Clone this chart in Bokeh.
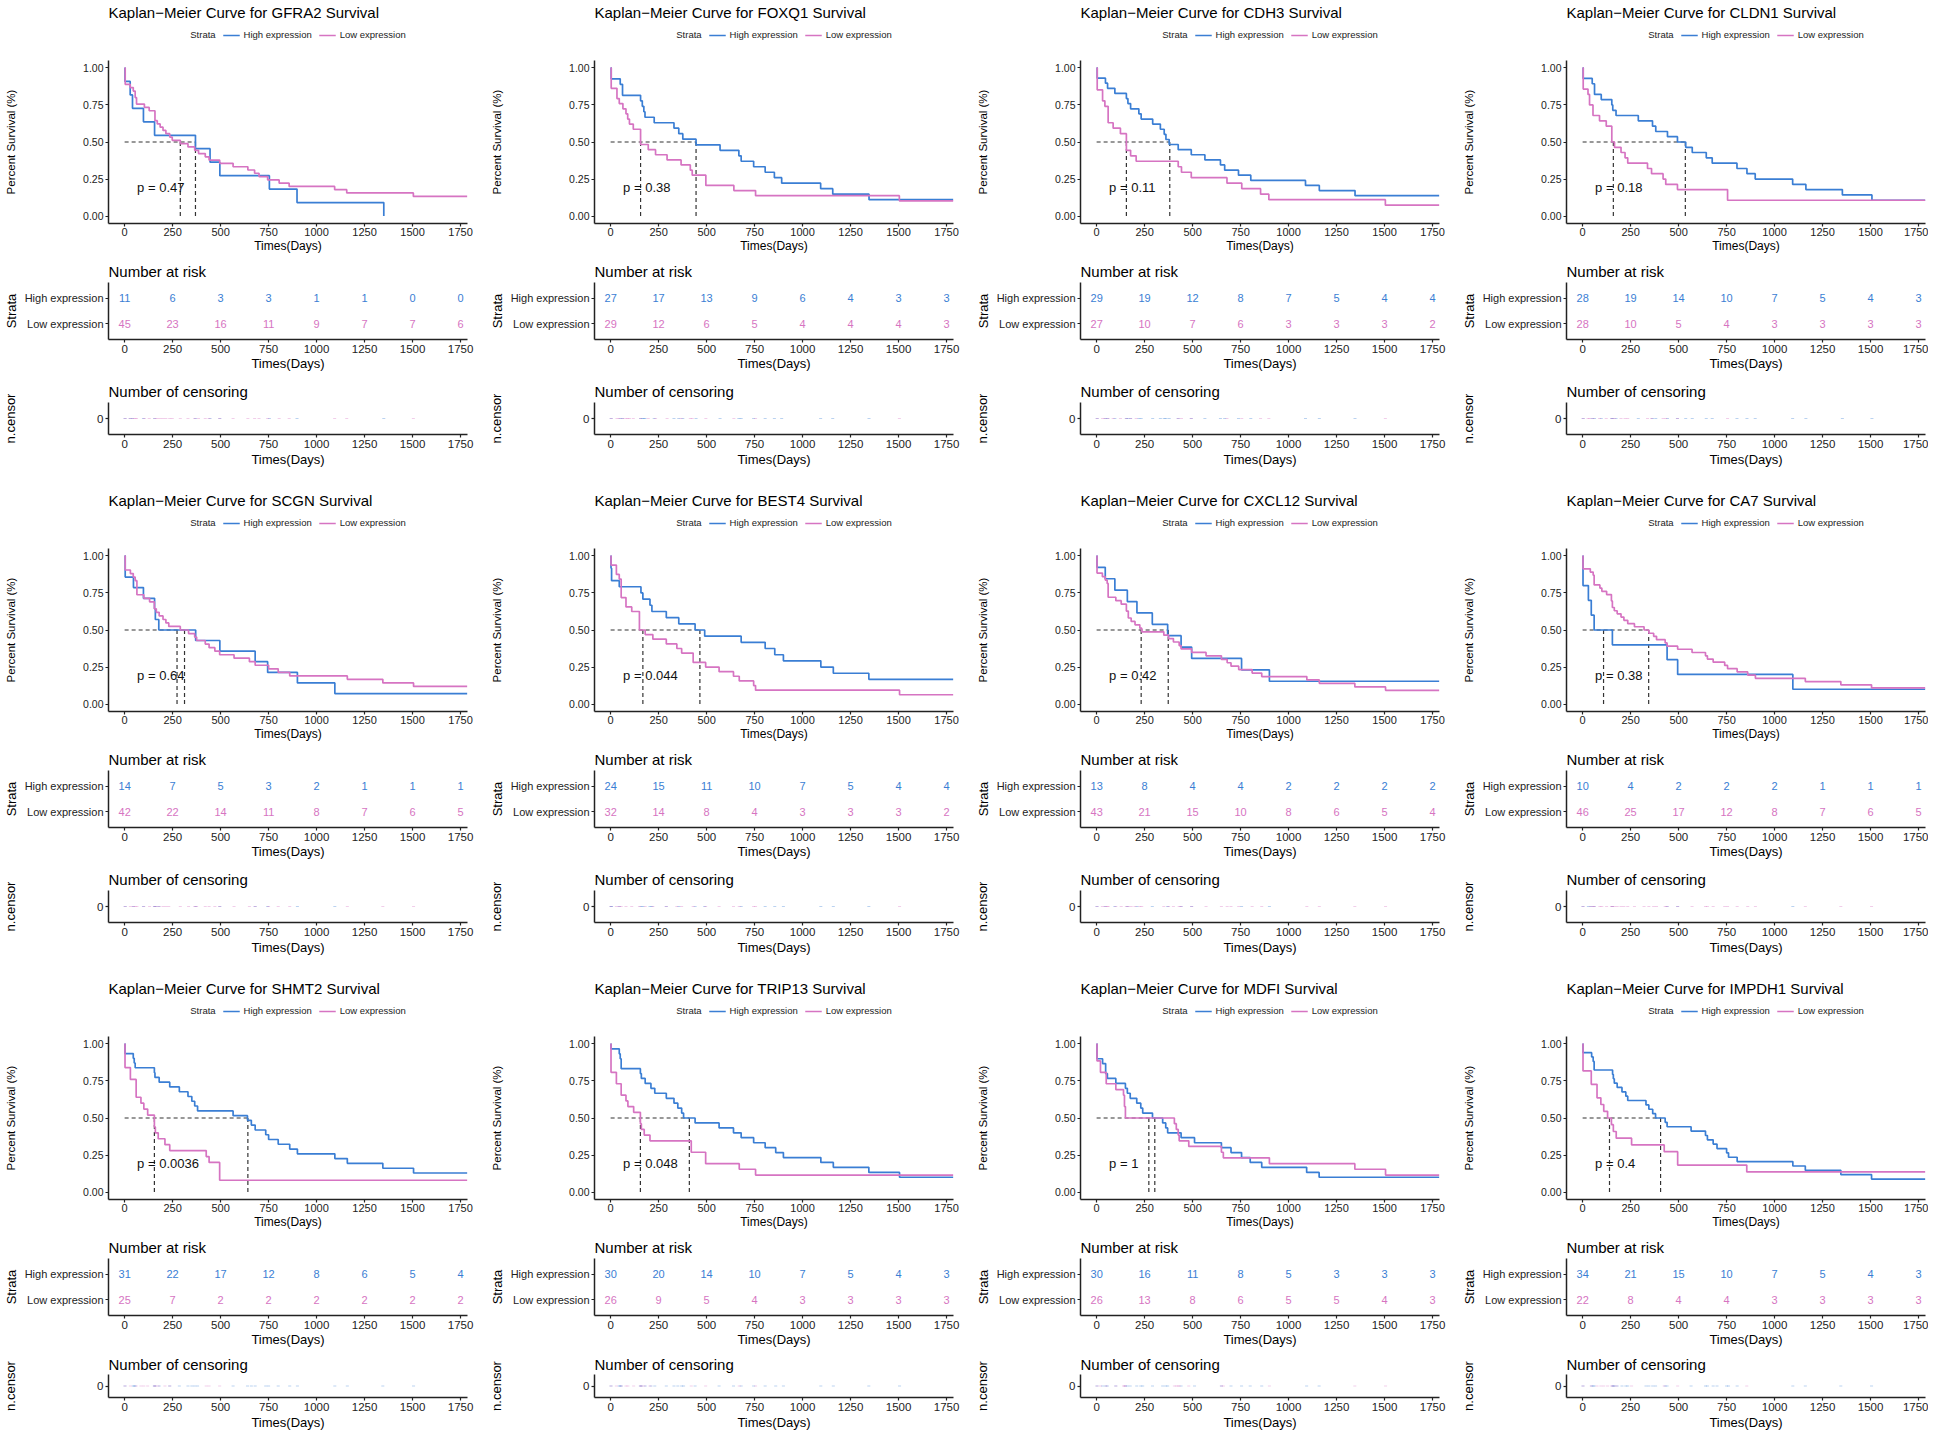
from bokeh.plotting import figure
from bokeh.layouts import column, row
from bokeh.models import Range1d, FactorRange, FixedTicker, Legend, LegendItem, NumeralTickFormatter
from bokeh.core.properties import value
from bokeh.embed import file_html
from bokeh.resources import INLINE

# ---------------- data ----------------
genes = ["GFRA2", "FOXQ1", "CDH3", "CLDN1", "SCGN", "BEST4", "CXCL12", "CA7",
         "SHMT2", "TRIP13", "MDFI", "IMPDH1"]
pvals = ["0.47", "0.38", "0.11", "0.18", "0.64", "0.044", "0.42", "0.38",
         "0.0036", "0.048", "1", "0.4"]
median_high = [369, 445, 381, 535, 273, 465, 373, 109, 642, 410, 303, 406]
median_low = [290, 156, 155, 160, 312, 168, 232, 344, 155, 155, 272, 140]

risk_times = [0, 250, 500, 750, 1000, 1250, 1500, 1750]
x_ticks = [0, 250, 500, 750, 1000, 1250, 1500, 1750]
y_ticks = [0.0, 0.25, 0.5, 0.75, 1.0]
strata = ["High expression", "Low expression"]

risk_high = [
    [11, 6, 3, 3, 1, 1, 0, 0], [27, 17, 13, 9, 6, 4, 3, 3], [29, 19, 12, 8, 7, 5, 4, 4],
    [28, 19, 14, 10, 7, 5, 4, 3], [14, 7, 5, 3, 2, 1, 1, 1], [24, 15, 11, 10, 7, 5, 4, 4],
    [13, 8, 4, 4, 2, 2, 2, 2], [10, 4, 2, 2, 2, 1, 1, 1], [31, 22, 17, 12, 8, 6, 5, 4],
    [30, 20, 14, 10, 7, 5, 4, 3], [30, 16, 11, 8, 5, 3, 3, 3], [34, 21, 15, 10, 7, 5, 4, 3]]
risk_low = [
    [45, 23, 16, 11, 9, 7, 7, 6], [29, 12, 6, 5, 4, 4, 4, 3], [27, 10, 7, 6, 3, 3, 3, 2],
    [28, 10, 5, 4, 3, 3, 3, 3], [42, 22, 14, 11, 8, 7, 6, 5], [32, 14, 8, 4, 3, 3, 3, 2],
    [43, 21, 15, 10, 8, 6, 5, 4], [46, 25, 17, 12, 8, 7, 6, 5], [25, 7, 2, 2, 2, 2, 2, 2],
    [26, 9, 5, 4, 3, 3, 3, 3], [26, 13, 8, 6, 5, 5, 4, 3], [22, 8, 4, 4, 3, 3, 3, 3]]

END_T = 1785

gfra2_high_t = [0, 2, 29, 41, 98, 156, 369, 445, 496, 754, 898, 1350]
gfra2_high_s = [1.0, 0.909, 0.818, 0.727, 0.636, 0.545, 0.455, 0.364, 0.273, 0.182, 0.091, 0.0]
gfra2_low_t = [0, 3, 29, 45, 55, 62, 103, 128, 158, 170, 185, 200, 215, 235, 248, 290, 330, 365, 385,
               420, 440, 495, 565, 642, 677, 700, 745, 805, 857, 1094, 1157, 1504, 1785]
gfra2_low_s = [1.0, 0.889, 0.867, 0.844, 0.8, 0.756, 0.733, 0.711, 0.644, 0.622, 0.6, 0.578, 0.556,
               0.533, 0.511, 0.489, 0.467, 0.444, 0.422, 0.4, 0.378, 0.356, 0.333, 0.311, 0.289,
               0.267, 0.244, 0.222, 0.2, 0.178, 0.156, 0.133, 0.133]

foxq1_high_t = [0, 3, 50, 62, 156, 165, 173, 179, 227, 330, 355, 376, 445, 570, 668, 680, 745, 805,
                853, 891, 1094, 1157, 1346, 1785]
foxq1_high_s = [1.0, 0.926, 0.889, 0.815, 0.778, 0.741, 0.704, 0.667, 0.63, 0.593, 0.556, 0.519,
                0.481, 0.444, 0.407, 0.37, 0.333, 0.296, 0.259, 0.222, 0.185, 0.148, 0.111, 0.111]
foxq1_low_t = [0, 3, 33, 45, 64, 80, 89, 98, 118, 156, 196, 234, 294, 367, 415, 425, 496, 642, 755,
               1504, 1785]
foxq1_low_s = [1.0, 0.862, 0.793, 0.759, 0.724, 0.69, 0.655, 0.621, 0.586, 0.483, 0.448, 0.414,
               0.379, 0.345, 0.31, 0.276, 0.207, 0.172, 0.138, 0.103, 0.103]

cdh3_high_t = [0, 3, 46, 57, 95, 155, 163, 177, 220, 232, 292, 332, 352, 361, 378, 425, 493, 564,
               645, 667, 739, 803, 1088, 1160, 1346, 1785]
cdh3_high_s = [1.0, 0.931, 0.897, 0.862, 0.828, 0.793, 0.759, 0.724, 0.69, 0.655, 0.621, 0.586,
               0.552, 0.517, 0.483, 0.448, 0.414, 0.379, 0.345, 0.31, 0.276, 0.241, 0.207, 0.172,
               0.138, 0.138]
cdh3_low_t = [0, 3, 31, 43, 60, 86, 124, 155, 177, 206, 425, 442, 493, 679, 756, 854, 897, 1504, 1785]
cdh3_low_s = [1.0, 0.852, 0.778, 0.741, 0.63, 0.593, 0.556, 0.444, 0.407, 0.37, 0.333, 0.296,
              0.259, 0.222, 0.185, 0.148, 0.111, 0.074, 0.074]

cldn1_high_t = [0, 3, 50, 62, 97, 152, 157, 174, 290, 364, 381, 442, 494, 537, 571, 644, 675, 804,
                856, 899, 1094, 1163, 1353, 1507, 1785]
cldn1_high_s = [1.0, 0.929, 0.893, 0.821, 0.786, 0.75, 0.714, 0.679, 0.643, 0.607, 0.571, 0.536,
                0.5, 0.464, 0.429, 0.393, 0.357, 0.321, 0.286, 0.25, 0.214, 0.179, 0.143, 0.107, 0.107]
cldn1_low_t = [0, 3, 28, 36, 54, 88, 123, 152, 166, 200, 221, 235, 338, 359, 419, 433, 494, 755, 1785]
cldn1_low_s = [1.0, 0.857, 0.821, 0.75, 0.679, 0.643, 0.607, 0.5, 0.464, 0.429, 0.393, 0.357,
               0.321, 0.286, 0.25, 0.214, 0.179, 0.107, 0.107]

scgn_high_t = [0, 3, 46, 98, 156, 160, 178, 370, 496, 680, 745, 900, 1095, 1785]
scgn_high_s = [1.0, 0.857, 0.786, 0.714, 0.643, 0.571, 0.5, 0.429, 0.357, 0.286, 0.214, 0.143,
               0.071, 0.071]
scgn_low_t = [0, 3, 30, 45, 55, 64, 100, 130, 155, 165, 180, 200, 215, 230, 290, 333, 365, 375,
              420, 440, 470, 495, 570, 650, 680, 750, 800, 860, 1160, 1345, 1505, 1785]
scgn_low_s = [1.0, 0.905, 0.881, 0.857, 0.833, 0.738, 0.714, 0.69, 0.643, 0.619, 0.595, 0.571,
              0.548, 0.524, 0.5, 0.476, 0.452, 0.429, 0.405, 0.381, 0.357, 0.333, 0.31, 0.286,
              0.262, 0.238, 0.214, 0.19, 0.167, 0.143, 0.119, 0.119]

best4_high_t = [0, 2, 5, 45, 158, 168, 205, 215, 290, 355, 440, 490, 680, 805, 855, 900, 1095,
                1160, 1345, 1785]
best4_high_s = [1.0, 0.917, 0.833, 0.792, 0.75, 0.708, 0.667, 0.625, 0.583, 0.542, 0.5, 0.458,
                0.417, 0.375, 0.333, 0.292, 0.25, 0.208, 0.167, 0.167]
best4_low_t = [0, 2, 30, 45, 55, 80, 110, 150, 180, 220, 290, 345, 370, 430, 495, 565, 640, 670,
               745, 755, 1505, 1785]
best4_low_s = [1.0, 0.938, 0.875, 0.844, 0.719, 0.656, 0.625, 0.5, 0.469, 0.438, 0.406, 0.375,
               0.344, 0.281, 0.25, 0.219, 0.188, 0.156, 0.125, 0.094, 0.063, 0.063]

cxcl12_high_t = [0, 2, 45, 95, 160, 210, 290, 370, 440, 495, 755, 900, 1785]
cxcl12_high_s = [1.0, 0.923, 0.846, 0.769, 0.692, 0.615, 0.538, 0.462, 0.385, 0.308, 0.231,
                 0.154, 0.154]
cxcl12_low_t = [0, 2, 30, 45, 55, 60, 100, 128, 155, 165, 180, 200, 225, 235, 350, 375, 400, 430,
                440, 495, 570, 650, 680, 700, 740, 810, 860, 1095, 1160, 1345, 1505, 1785]
cxcl12_low_s = [1.0, 0.884, 0.86, 0.837, 0.814, 0.721, 0.698, 0.674, 0.628, 0.581, 0.558, 0.535,
                0.512, 0.488, 0.465, 0.442, 0.419, 0.395, 0.372, 0.349, 0.326, 0.302, 0.279,
                0.256, 0.233, 0.209, 0.186, 0.163, 0.14, 0.116, 0.093, 0.093]

ca7_high_t = [0, 2, 30, 45, 60, 155, 440, 495, 1095, 1785]
ca7_high_s = [1.0, 0.8, 0.7, 0.6, 0.5, 0.4, 0.3, 0.2, 0.1, 0.1]
ca7_low_t = [0, 2, 40, 55, 60, 90, 100, 125, 150, 155, 165, 180, 200, 215, 235, 270, 320, 345,
             370, 385, 430, 440, 495, 570, 640, 650, 680, 740, 755, 805, 860, 900, 1160, 1345,
             1505, 1785]
ca7_low_s = [1.0, 0.913, 0.891, 0.87, 0.804, 0.783, 0.761, 0.739, 0.696, 0.652, 0.63, 0.609,
             0.587, 0.565, 0.543, 0.522, 0.5, 0.478, 0.457, 0.435, 0.413, 0.391, 0.37, 0.348,
             0.326, 0.304, 0.283, 0.261, 0.239, 0.217, 0.196, 0.174, 0.152, 0.13, 0.109, 0.109]

shmt2_high_t = [0, 2, 45, 50, 55, 155, 158, 180, 235, 285, 330, 350, 365, 380, 565, 640, 660,
                680, 735, 750, 800, 860, 900, 1095, 1160, 1345, 1505, 1785]
shmt2_high_s = [1.0, 0.935, 0.903, 0.871, 0.839, 0.806, 0.774, 0.742, 0.71, 0.677, 0.645, 0.613,
                0.581, 0.548, 0.516, 0.484, 0.452, 0.419, 0.387, 0.355, 0.323, 0.29, 0.258,
                0.226, 0.194, 0.161, 0.129, 0.129]
shmt2_low_t = [0, 2, 30, 60, 85, 100, 120, 155, 160, 175, 210, 235, 425, 440, 495, 1785]
shmt2_low_s = [1.0, 0.84, 0.76, 0.64, 0.6, 0.56, 0.52, 0.44, 0.4, 0.36, 0.32, 0.28, 0.24, 0.2,
               0.08, 0.08]

trip13_high_t = [0, 2, 45, 50, 55, 155, 160, 180, 210, 230, 290, 330, 350, 370, 380, 440, 565,
                 640, 680, 745, 805, 860, 900, 1095, 1160, 1345, 1505, 1785]
trip13_high_s = [1.0, 0.967, 0.933, 0.9, 0.833, 0.8, 0.767, 0.733, 0.7, 0.667, 0.633, 0.6, 0.567,
                 0.533, 0.5, 0.467, 0.433, 0.4, 0.367, 0.333, 0.3, 0.267, 0.233, 0.2, 0.167,
                 0.133, 0.1, 0.1]
trip13_low_t = [0, 2, 30, 55, 80, 90, 120, 155, 160, 175, 205, 420, 495, 670, 755, 1785]
trip13_low_s = [1.0, 0.808, 0.731, 0.654, 0.615, 0.577, 0.538, 0.462, 0.423, 0.385, 0.346, 0.269,
                0.192, 0.154, 0.115, 0.115]

mdfi_high_t = [0, 2, 31, 47, 56, 100, 150, 160, 175, 209, 230, 240, 291, 344, 360, 370, 440, 510,
               650, 700, 755, 800, 860, 1094, 1159, 1785]
mdfi_high_s = [1.0, 0.9, 0.867, 0.8, 0.767, 0.733, 0.7, 0.667, 0.633, 0.6, 0.567, 0.533, 0.5,
               0.467, 0.433, 0.4, 0.367, 0.333, 0.3, 0.267, 0.233, 0.2, 0.167, 0.133, 0.1, 0.1]
mdfi_low_t = [0, 2, 20, 50, 100, 140, 145, 150, 405, 415, 425, 430, 480, 650, 660, 900, 1345,
              1505, 1785]
mdfi_low_s = [1.0, 0.885, 0.808, 0.731, 0.692, 0.654, 0.577, 0.5, 0.462, 0.423, 0.385, 0.346,
              0.308, 0.269, 0.231, 0.192, 0.154, 0.115, 0.115]

impdh1_high_t = [0, 2, 47, 55, 60, 156, 160, 165, 180, 205, 225, 235, 330, 345, 365, 380, 430,
                 440, 565, 640, 650, 680, 700, 750, 760, 805, 1095, 1160, 1345, 1505, 1785]
impdh1_high_s = [1.0, 0.941, 0.912, 0.882, 0.824, 0.794, 0.765, 0.735, 0.706, 0.676, 0.647,
                 0.618, 0.588, 0.559, 0.529, 0.5, 0.471, 0.441, 0.412, 0.382, 0.353, 0.324,
                 0.294, 0.265, 0.235, 0.206, 0.176, 0.147, 0.118, 0.088, 0.088]
impdh1_low_t = [0, 2, 45, 75, 95, 110, 130, 150, 160, 175, 255, 425, 495, 855, 1785]
impdh1_low_s = [1.0, 0.818, 0.727, 0.636, 0.591, 0.545, 0.5, 0.455, 0.409, 0.364, 0.318, 0.273,
                0.182, 0.136, 0.136]

curves = [
    (gfra2_high_t, gfra2_high_s, gfra2_low_t, gfra2_low_s),
    (foxq1_high_t, foxq1_high_s, foxq1_low_t, foxq1_low_s),
    (cdh3_high_t, cdh3_high_s, cdh3_low_t, cdh3_low_s),
    (cldn1_high_t, cldn1_high_s, cldn1_low_t, cldn1_low_s),
    (scgn_high_t, scgn_high_s, scgn_low_t, scgn_low_s),
    (best4_high_t, best4_high_s, best4_low_t, best4_low_s),
    (cxcl12_high_t, cxcl12_high_s, cxcl12_low_t, cxcl12_low_s),
    (ca7_high_t, ca7_high_s, ca7_low_t, ca7_low_s),
    (shmt2_high_t, shmt2_high_s, shmt2_low_t, shmt2_low_s),
    (trip13_high_t, trip13_high_s, trip13_low_t, trip13_low_s),
    (mdfi_high_t, mdfi_high_s, mdfi_low_t, mdfi_low_s),
    (impdh1_high_t, impdh1_high_s, impdh1_low_t, impdh1_low_s),
]

# ---------------- styling ----------------
FONT = "Liberation Sans"
BLUE = "#3A7ED4"
PINK = "#D674C2"
INK = "#222222"
COL_W = [486, 486, 486, 470]
ROW_H = [488, 488, 456]
HEAD_H = 58
KM_H = 200
RISK_H = 118
FRAME_L = 104
FRAME_R = 467
X_LO, X_HI = -84, 1786


def style_title(p):
    p.title.text_font = FONT
    p.title.text_font_size = "15px"
    p.title.text_font_style = "normal"
    p.title.text_color = "#000000"
    p.title.align = "left"


def base_fig(w, h, top, bottom, y_range):
    p = figure(width=w, height=h, x_range=Range1d(X_LO, X_HI), y_range=y_range,
               output_backend="svg", toolbar_location=None,
               min_border_left=FRAME_L, min_border_right=max(w - FRAME_R, 0),
               min_border_top=top, min_border_bottom=bottom)
    p.outline_line_color = None
    p.xgrid.grid_line_color = None
    p.ygrid.grid_line_color = None
    p.background_fill_color = "white"
    p.border_fill_color = "white"
    style_title(p)
    for ax in (p.xaxis[0], p.yaxis[0]):
        ax.axis_line_color = INK
        ax.axis_line_width = 1.5
        ax.major_tick_line_color = INK
        ax.major_tick_line_width = 1.2
        ax.major_tick_out = 3
        ax.major_tick_in = 0
        ax.minor_tick_line_color = None
        ax.major_label_text_font = FONT
        ax.major_label_text_color = INK
        ax.axis_label_text_font = FONT
        ax.axis_label_text_font_style = "normal"
        ax.axis_label_text_color = "#000000"
    p.xaxis[0].ticker = FixedTicker(ticks=x_ticks)
    p.xaxis[0].axis_label = "Times(Days)"
    return p


def head_fig(i, w):
    # title + legend strip above the survival curves
    p = figure(width=w, height=HEAD_H, x_range=Range1d(0, 1), y_range=Range1d(0, 1),
               x_axis_type=None, y_axis_type=None, output_backend="svg",
               toolbar_location=None, min_border_left=FRAME_L,
               min_border_right=max(w - FRAME_R, 0),
               min_border_top=20, min_border_bottom=10)
    p.outline_line_color = None
    p.grid.grid_line_color = None
    p.background_fill_color = "white"
    p.border_fill_color = "white"
    p.title.text = "Kaplan\u2212Meier Curve for " + genes[i] + " Survival"
    style_title(p)
    p.title.standoff = 2
    dummy = p.line(x=[0], y=[0], line_alpha=0)
    rh = p.line(x=[0], y=[0], line_color=BLUE, line_width=1.6)
    rl = p.line(x=[0], y=[0], line_color=PINK, line_width=1.6)
    leg = Legend(items=[LegendItem(label="Strata", renderers=[dummy]),
                        LegendItem(label=strata[0], renderers=[rh]),
                        LegendItem(label=strata[1], renderers=[rl])],
                 orientation="horizontal", location="center")
    leg.label_text_font = FONT
    leg.label_text_font_size = "9.5px"
    leg.label_text_color = INK
    leg.label_height = 12
    leg.glyph_height = 12
    leg.glyph_width = 17
    leg.label_standoff = 4
    leg.spacing = 7
    leg.padding = 0
    leg.margin = 0
    leg.border_line_alpha = 0
    leg.background_fill_alpha = 0
    p.add_layout(leg)
    return p


def km_fig(i, w):
    ht, hs, lt, ls = curves[i]
    p = base_fig(w, KM_H, 2, 35, Range1d(-0.05, 1.05))
    xa, ya = p.xaxis[0], p.yaxis[0]
    xa.major_label_text_font_size = "11px"
    xa.major_label_standoff = 1
    xa.axis_label_text_font_size = "12px"
    xa.axis_label_standoff = 0
    ya.ticker = FixedTicker(ticks=y_ticks)
    ya.formatter = NumeralTickFormatter(format="0.00")
    ya.major_label_text_font_size = "10.5px"
    ya.major_label_standoff = 2
    ya.axis_label = "Percent Survival (%)"
    ya.axis_label_text_font_size = "11.5px"
    ya.axis_label_standoff = 63

    mh, ml = median_high[i], median_low[i]
    p.segment(x0=[0], y0=[0.5], x1=[max(mh, ml)], y1=[0.5], line_color="#333333",
              line_width=1.2, line_dash="4 3")
    p.segment(x0=[mh, ml], y0=[0.5, 0.5], x1=[mh, ml], y1=[0, 0], line_color="#333333",
              line_width=1.2, line_dash="4 3")
    p.step(x=ht, y=hs, mode="after", line_color=BLUE, line_width=1.7)
    p.step(x=lt, y=ls, mode="after", line_color=PINK, line_width=1.7)
    p.text(x=[65], y=[0.19], text=["p = " + pvals[i]], text_font=value(FONT),
           text_font_size="13px", text_align="left", text_baseline="middle", text_color="#111111")
    return p


def risk_fig(i, w):
    p = base_fig(w, RISK_H, 24, 37,
                 FactorRange(factors=[strata[1], strata[0]], range_padding=0.1))
    p.title.text = "Number at risk"
    p.title.standoff = 5
    xa, ya = p.xaxis[0], p.yaxis[0]
    xa.major_label_text_font_size = "11.5px"
    xa.major_label_standoff = 2
    xa.axis_label_text_font_size = "13px"
    xa.axis_label_standoff = 0
    ya.major_label_text_font_size = "11px"
    ya.major_label_standoff = 2
    ya.axis_label = "Strata"
    ya.axis_label_text_font_size = "13px"
    ya.axis_label_standoff = 3
    p.text(x=risk_times, y=[strata[0]] * len(risk_times), text=[str(v) for v in risk_high[i]],
           text_font=value(FONT), text_font_size="11px", text_align="center",
           text_baseline="middle", text_color=BLUE)
    p.text(x=risk_times, y=[strata[1]] * len(risk_times), text=[str(v) for v in risk_low[i]],
           text_font=value(FONT), text_font_size="11px", text_align="center",
           text_baseline="middle", text_color=PINK)
    return p


def censor_fig(i, w, h):
    ht, hs, lt, ls = curves[i]
    if h >= 92:
        top, bottom = 26, h - 58
    else:
        top, bottom = 22, 34
    p = base_fig(w, h, top, bottom, Range1d(-1, 1))
    p.title.text = "Number of censoring"
    p.title.standoff = 6 if top >= 26 else 3
    xa, ya = p.xaxis[0], p.yaxis[0]
    xa.major_label_text_font_size = "11.5px"
    xa.major_label_standoff = 2
    xa.axis_label_text_font_size = "13px"
    xa.axis_label_standoff = 1
    ya.ticker = FixedTicker(ticks=[0])
    ya.major_label_text_font_size = "11.5px"
    ya.major_label_standoff = 2
    ya.axis_label = "n.censor"
    ya.axis_label_text_font_size = "13px"
    ya.axis_label_standoff = 76
    th = [t for t in ht[1:] if t < END_T]
    tl = [t for t in lt[1:] if t < END_T]
    p.scatter(x=th, y=[0] * len(th), marker="dash", size=3, line_color=BLUE, line_alpha=0.35)
    p.scatter(x=tl, y=[0] * len(tl), marker="dash", size=3, line_color=PINK, line_alpha=0.35)
    return p


rows = []
for r in range(3):
    panels = []
    for c in range(4):
        i = r * 4 + c
        w = COL_W[c]
        h_c = ROW_H[r] - HEAD_H - KM_H - RISK_H
        panels.append(column(head_fig(i, w), km_fig(i, w), risk_fig(i, w),
                             censor_fig(i, w, h_c), spacing=0))
    rows.append(row(*panels, spacing=0))
layout = column(*rows, spacing=0)

open("out.html", "w").write(file_html(layout, INLINE))
